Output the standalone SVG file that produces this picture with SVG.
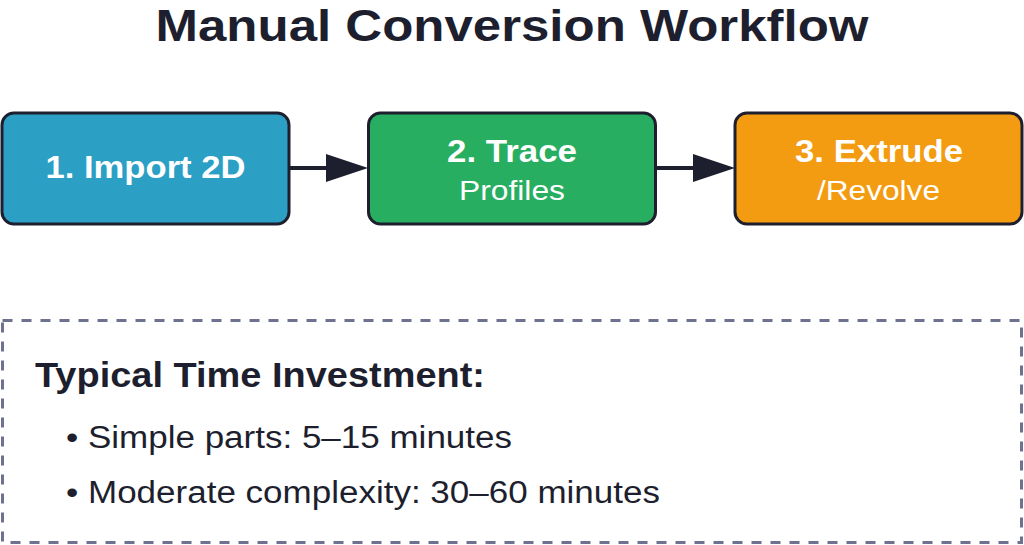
<svg xmlns="http://www.w3.org/2000/svg" width="1024" height="545" viewBox="0 0 1024 545">
<style>
.box{stroke:#1e1f2e;stroke-width:3}
.t{font-family:"Liberation Sans",Arial,sans-serif;fill:#fff;text-anchor:middle}
.b{font-weight:bold}
.d{font-family:"Liberation Sans",Arial,sans-serif;fill:#1e1f2e}
</style>
<rect width="1024" height="545" fill="#fff"/>
<text x="512" y="41" class="d b" font-size="45" text-anchor="middle" textLength="713" lengthAdjust="spacingAndGlyphs">Manual Conversion Workflow</text>
<g id="connectors" stroke="#1e1f2e" stroke-width="4" fill="#1e1f2e">
<line x1="290" y1="168" x2="328" y2="168"/>
<path d="M326,154 L368,168 L326,182 Z" stroke="none"/>
<line x1="657" y1="168" x2="695" y2="168"/>
<path d="M693,154 L735,168 L693,182 Z" stroke="none"/>
</g>
<g id="node1">
<rect class="box" x="2" y="113" width="287" height="111" rx="12" fill="#2ba0c4"/>
<text x="145.5" y="178" class="t b" font-size="31" textLength="200" lengthAdjust="spacingAndGlyphs">1. Import 2D</text>
</g>
<g id="node2">
<rect class="box" x="368.5" y="113" width="287" height="111" rx="12" fill="#27ae60"/>
<text x="512" y="162" class="t b" font-size="31" textLength="130" lengthAdjust="spacingAndGlyphs">2. Trace</text>
<text x="512" y="200" class="t" font-size="27" textLength="106" lengthAdjust="spacingAndGlyphs">Profiles</text>
</g>
<g id="node3">
<rect class="box" x="735" y="113" width="287" height="111" rx="12" fill="#f39c12"/>
<text x="879" y="162" class="t b" font-size="31" textLength="168" lengthAdjust="spacingAndGlyphs">3. Extrude</text>
<text x="878.5" y="200" class="t" font-size="27" textLength="123" lengthAdjust="spacingAndGlyphs">/Revolve</text>
</g>
<g id="info">
<rect x="2.5" y="320.5" width="1019" height="222" fill="none" stroke="#6e7190" stroke-width="3" stroke-dasharray="10 9"/>
<text x="35" y="387" class="d b" font-size="35" textLength="450" lengthAdjust="spacingAndGlyphs">Typical Time Investment:</text>
<text x="66" y="448" class="d" font-size="31" textLength="446" lengthAdjust="spacingAndGlyphs">• Simple parts: 5–15 minutes</text>
<text x="66" y="503" class="d" font-size="31" textLength="594" lengthAdjust="spacingAndGlyphs">• Moderate complexity: 30–60 minutes</text>
</g>
</svg>
